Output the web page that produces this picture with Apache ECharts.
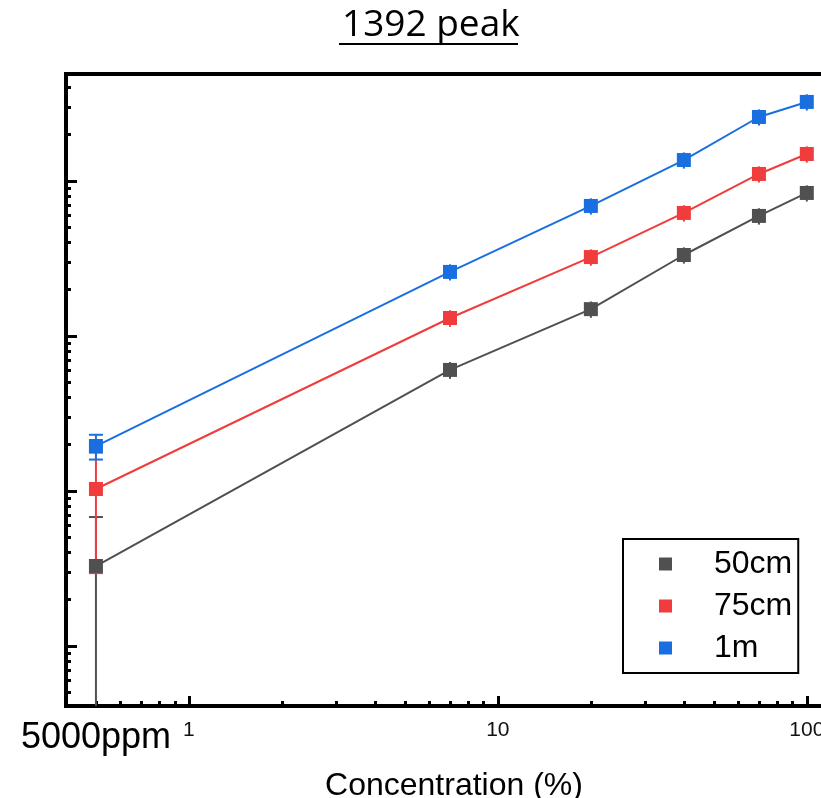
<!DOCTYPE html>
<html>
<head>
<meta charset="utf-8">
<title>1392 peak</title>
<script src="https://cdn.jsdelivr.net/npm/echarts@6/dist/echarts.min.js"></script>
<style>
  html, body { margin: 0; padding: 0; background: #ffffff; }
  #chart { width: 821px; height: 798px; }
</style>
</head>
<body>
<div id="chart"></div>
<script>
// Concentration levels (%) — 0.5 % is written as 5000 ppm on the axis
const concentrations = [0.5, 7, 20, 40, 70, 100];

const seriesNames = ['50cm', '75cm', '1m'];
const seriesColors = ['#505050', '#f03c3c', '#1a6fe0'];

// Peak intensity at 1392 for each distance
const intensity50cm = [32.8, 604, 1490, 3330, 5950, 8370];
const intensity75cm = [103, 1306, 3230, 6220, 11100, 14930];
const intensity1m   = [195, 2590, 6900, 13650, 25870, 32360];

// Standard deviations
const error50cm = [35.1, 75, 180, 400, 720, 1000];
const error75cm = [73.5, 160, 390, 750, 1330, 1800];
const error1m   = [35.5, 310, 830, 1640, 3100, 3900];

// Axis ticks
const xMajorTicks = [1, 10, 100];
const xLabelValues = [0.5, 1, 10, 100];
const xMinorTicks = [0.5, 0.6, 0.7, 0.8, 0.9, 2, 3, 4, 5, 6, 7, 8, 9, 20, 30, 40, 50, 60, 70, 80, 90];
const yMajorTicks = [10, 100, 1000, 10000];
const yMinorTicks = [5, 6, 7, 8, 9, 20, 30, 40, 50, 60, 70, 80, 90,
  200, 300, 400, 500, 600, 700, 800, 900,
  2000, 3000, 4000, 5000, 6000, 7000, 8000, 9000,
  20000, 30000, 40000];

const intensities = [intensity50cm, intensity75cm, intensity1m];
const errors = [error50cm, error75cm, error1m];

const X_MIN = 0.4, X_MAX = 130;
const Y_MIN = 4.1, Y_MAX = 49000;
const FONT = '"Liberation Sans", Arial, sans-serif';

const chart = echarts.init(document.getElementById('chart'), null, { renderer: 'canvas' });

function errorBarRenderer(color) {
  return function (params, api) {
    const x = api.value(0);
    const y = api.value(1);
    const e = api.value(2);
    const cs = params.coordSys;
    const center = api.coord([x, y]);
    const topY = api.coord([x, y + e])[1];
    const low = y - e;
    const bottomY = low > 0 ? api.coord([x, low])[1] : cs.y + cs.height;
    const cx = center[0];
    const style = { stroke: color, lineWidth: 2 };
    const children = [{
      type: 'line',
      shape: { x1: cx, y1: Math.max(topY, cs.y), x2: cx, y2: Math.min(bottomY, cs.y + cs.height) },
      style: style
    }];
    const capHalf = 7;
    if (center[1] - topY > 10 && topY >= cs.y) {
      children.push({ type: 'line', shape: { x1: cx - capHalf, y1: topY, x2: cx + capHalf, y2: topY }, style: style });
    }
    if (bottomY - center[1] > 10 && bottomY < cs.y + cs.height) {
      children.push({ type: 'line', shape: { x1: cx - capHalf, y1: bottomY, x2: cx + capHalf, y2: bottomY }, style: style });
    }
    return { type: 'group', children: children };
  };
}

const lineSeries = seriesNames.map((name, i) => ({
  name: name,
  type: 'line',
  xAxisIndex: 0,
  yAxisIndex: 0,
  data: concentrations.map((c, j) => [c, intensities[i][j]]),
  symbol: 'rect',
  symbolSize: 14,
  color: seriesColors[i],
  itemStyle: { color: seriesColors[i] },
  lineStyle: { color: seriesColors[i], width: 2 },
  emphasis: { disabled: true },
  z: 3 + i,
  animation: false
}));

const errorSeries = seriesNames.map((name, i) => ({
  name: name + ' error',
  type: 'custom',
  xAxisIndex: 0,
  yAxisIndex: 0,
  data: concentrations.map((c, j) => [c, intensities[i][j], errors[i][j]]),
  encode: { x: 0, y: 1 },
  renderItem: errorBarRenderer(seriesColors[i]),
  z: 2,
  silent: true,
  animation: false
}));

const option = {
  backgroundColor: '#ffffff',
  animation: false,
  title: {
    text: '1392 peak',
    left: 337,
    top: 2,
    textStyle: { fontFamily: '"Open Sans", sans-serif', fontSize: 37, fontWeight: 'normal', color: '#000' }
  },
  graphic: [{
    type: 'line',
    shape: { x1: 339, y1: 44, x2: 518, y2: 44 },
    style: { stroke: '#000', lineWidth: 2 }
  }],
  grid: {
    left: 66,
    top: 74,
    width: 776,
    height: 632,
    outerBoundsMode: 'none',
    containLabel: false,
    show: true,
    borderColor: '#000',
    borderWidth: 4,
    backgroundColor: 'transparent'
  },
  legend: {
    data: seriesNames,
    orient: 'vertical',
    left: 623,
    top: 539,
    icon: 'rect',
    itemWidth: 13,
    itemHeight: 13,
    itemGap: 10,
    padding: [9, 6, 9, 36],
    borderColor: '#000',
    borderWidth: 2,
    backgroundColor: '#fff',
    selectedMode: false,
    textStyle: { fontFamily: FONT, fontSize: 32, color: '#000', padding: [0, 0, 0, 37] }
  },
  xAxis: [{
    type: 'log',
    logBase: 10,
    min: X_MIN,
    max: X_MAX,
    position: 'bottom',
    name: 'Concentration (%)',
    nameLocation: 'middle',
    nameGap: 64,
    nameTextStyle: { fontFamily: FONT, fontSize: 32, color: '#000' },
    axisLine: { show: true, lineStyle: { color: '#000', width: 4 } },
    axisTick: { show: true, inside: true, length: 10, customValues: xMajorTicks, lineStyle: { color: '#000', width: 3 } },
    axisLabel: {
      show: true,
      margin: 14,
      fontFamily: FONT,
      fontSize: 21,
      color: '#111',
      customValues: xLabelValues,
      formatter: function (v) {
        if (Math.abs(v - 0.5) < 1e-6) return '{ppm|5000ppm}';
        return String(Math.round(v));
      },
      rich: {
        ppm: { fontFamily: FONT, fontSize: 36, color: '#000' }
      }
    },
    splitLine: { show: false },
    minorTick: { show: false }
  }, {
    type: 'log',
    logBase: 10,
    min: X_MIN,
    max: X_MAX,
    position: 'bottom',
    gridIndex: 0,
    axisLine: { show: false },
    axisTick: { show: true, inside: true, length: 5, customValues: xMinorTicks, lineStyle: { color: '#000', width: 3 } },
    axisLabel: { show: false },
    splitLine: { show: false }
  }],
  yAxis: [{
    type: 'log',
    logBase: 10,
    min: Y_MIN,
    max: Y_MAX,
    position: 'left',
    axisLine: { show: true, lineStyle: { color: '#000', width: 4 } },
    axisTick: { show: true, inside: true, length: 11, customValues: yMajorTicks, lineStyle: { color: '#000', width: 3 } },
    axisLabel: { show: false },
    splitLine: { show: false }
  }, {
    type: 'log',
    logBase: 10,
    min: Y_MIN,
    max: Y_MAX,
    position: 'left',
    gridIndex: 0,
    axisLine: { show: false },
    axisTick: { show: true, inside: true, length: 5, customValues: yMinorTicks, lineStyle: { color: '#000', width: 3 } },
    axisLabel: { show: false },
    splitLine: { show: false }
  }],
  series: lineSeries.concat(errorSeries)
};

chart.setOption(option);
</script>
</body>
</html>
